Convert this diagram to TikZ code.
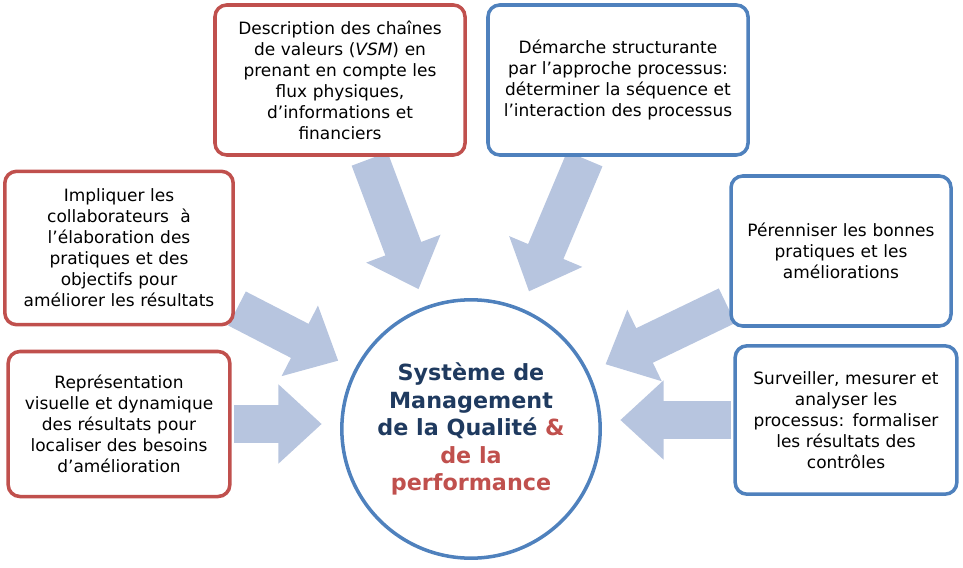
\documentclass[tikz,border=0pt]{standalone}
\usepackage{fontspec}
\setmainfont{DejaVu Sans}
\usetikzlibrary{arrows.meta,backgrounds}
\definecolor{boxred}{HTML}{C0504D}
\definecolor{boxblue}{HTML}{4F81BD}
\definecolor{flow}{HTML}{B7C5DF}
\definecolor{navy}{HTML}{1F3A5F}
\begin{document}
\begin{tikzpicture}[x=0.03cm,y=-0.03cm,
		redbox/.style={draw=boxred,line width=3pt,rounded corners=10pt,fill=white,align=center,
			font=\fontsize{14.5}{17.9}\selectfont,inner sep=2pt},
		bluebox/.style={redbox,draw=boxblue},
		flowarrow/.style={draw=flow,line width=1.15cm,-{Triangle[width=2.3cm,length=1.3cm]},
			shorten <=2pt,shorten >=0.55cm}]
		\useasboundingbox (0,0) rectangle (963,568);

		\node[circle,draw=boxblue,line width=3pt,minimum size=7.75cm,align=center,
			font=\fontsize{19}{23.5}\selectfont\bfseries,text=navy] (SMQ) at (471,429)
			{Système de\\Management\\de la Qualité \textcolor{boxred}{\&}\\\textcolor{boxred}{de la}\\\textcolor{boxred}{performance}};

		\node[redbox,minimum width=7.5cm,minimum height=4.5cm,text width=7cm] (VSM) at (340,80)
			{Description des chaînes\\de valeurs (\textit{VSM}) en\\prenant en compte les\\flux physiques,\\d'informations et\\financiers};
		\node[bluebox,minimum width=7.8cm,minimum height=4.5cm,text width=7.6cm] (PRO) at (618,80)
			{Démarche structurante\\par l'approche processus:\\déterminer la séquence et\\l'interaction des processus};
		\node[redbox,minimum width=6.85cm,minimum height=4.6cm,text width=6.7cm] (COL) at (119,248)
			{Impliquer les\\collaborateurs\ \ à\\l'élaboration des\\pratiques et des\\objectifs pour\\améliorer les résultats};
		\node[redbox,minimum width=6.65cm,minimum height=4.35cm,text width=6.5cm] (VIS) at (119,424)
			{Représentation\\visuelle et dynamique\\des résultats pour\\localiser des besoins\\d'amélioration};
		\node[bluebox,minimum width=6.6cm,minimum height=4.5cm,text width=6.4cm] (PER) at (841,251)
			{Pérenniser les bonnes\\pratiques et les\\améliorations\\[2.2em]};
		\node[bluebox,minimum width=6.65cm,minimum height=4.45cm,text width=6.5cm] (SUR) at (846,420)
			{Surveiller, mesurer et\\analyser les\\processus: formaliser\\les résultats des\\contrôles};

		\begin{scope}[on background layer]
			\draw[flowarrow] (VSM) -- (SMQ);
			\draw[flowarrow] (PRO) -- (SMQ);
			\draw[flowarrow] (COL) -- (SMQ);
			\draw[flowarrow] (VIS.east) -- (VIS.east -| SMQ.west);
			\draw[flowarrow] (PER) -- (SMQ);
			\draw[flowarrow] (SUR.west) -- (SUR.west -| SMQ.east);
		\end{scope}
	\end{tikzpicture}
\end{document}
